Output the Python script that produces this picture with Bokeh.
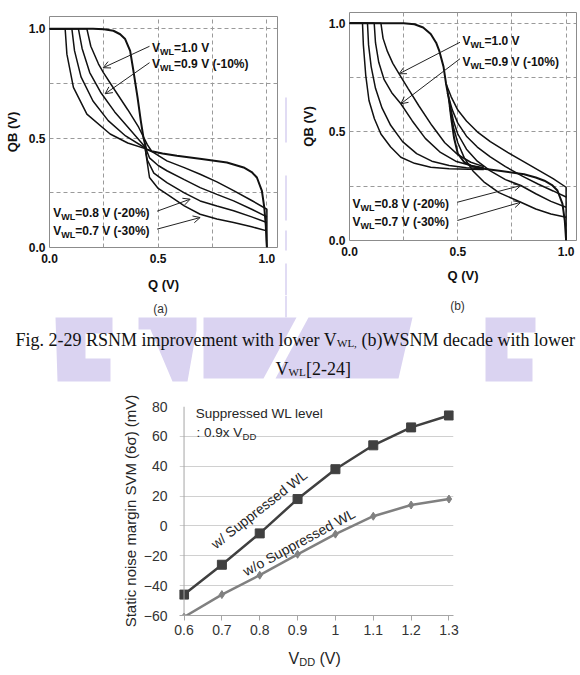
from bokeh.plotting import figure
from bokeh.layouts import column, row
from bokeh.models import Range1d, FixedTicker, Arrow, OpenHead, Span
from bokeh.core.properties import value
from bokeh.embed import file_html
from bokeh.resources import INLINE

SANS = "Liberation Sans"
SERIF = "Liberation Serif"
LAV = "#dad3f1"
LAV_LINE = "#e1dcf4"

# ---------------- (a) read-mode butterfly curves, Q (V) vs QB (V) ----------------
a_ref_q = [0.0, 0.2, 0.25, 0.294, 0.325, 0.348, 0.371, 0.386, 0.405, 0.42, 0.432, 0.445, 0.47,
           0.52, 0.586, 0.7, 0.816, 0.893, 0.93, 0.954, 0.977, 0.988, 0.995, 0.998, 1.0]
a_ref_qb = [1.0, 1.0, 0.998, 0.991, 0.975, 0.953, 0.899, 0.808, 0.686, 0.579, 0.503, 0.45, 0.44,
            0.43, 0.419, 0.405, 0.389, 0.366, 0.345, 0.32, 0.259, 0.183, 0.1, 0.03, 0.0]

a_v10_q = [0.0, 0.172, 0.19, 0.225, 0.248, 0.3, 0.36, 0.41, 0.45, 0.47, 0.54, 0.62, 0.693, 0.77,
           0.847, 0.93, 1.0, 1.0]
a_v10_qb = [1.0, 1.0, 0.92, 0.84, 0.8, 0.72, 0.63, 0.55, 0.47, 0.44, 0.396, 0.365, 0.335, 0.3,
            0.26, 0.215, 0.175, 0.0]

a_v09_q = [0.0, 0.133, 0.15, 0.185, 0.235, 0.3, 0.37, 0.44, 0.46, 0.5, 0.54, 0.62, 0.693, 0.77,
           0.847, 0.93, 1.0]
a_v09_qb = [1.0, 1.0, 0.91, 0.8, 0.71, 0.62, 0.54, 0.46, 0.41, 0.375, 0.351, 0.31, 0.274, 0.243,
            0.213, 0.175, 0.14]

a_v08_q = [0.0, 0.103, 0.115, 0.145, 0.2, 0.27, 0.35, 0.44, 0.45, 0.48, 0.54, 0.62, 0.693, 0.77,
           0.847, 0.93, 1.0]
a_v08_qb = [1.0, 1.0, 0.9, 0.78, 0.67, 0.58, 0.51, 0.455, 0.4, 0.34, 0.297, 0.25, 0.213, 0.19,
            0.168, 0.14, 0.114]

a_v07_q = [0.0, 0.072, 0.08, 0.11, 0.172, 0.279, 0.36, 0.44, 0.448, 0.46, 0.5, 0.54, 0.62,
           0.693, 0.77, 0.847, 0.93, 1.0]
a_v07_qb = [1.0, 1.0, 0.884, 0.732, 0.61, 0.519, 0.478, 0.452, 0.4, 0.32, 0.27, 0.244, 0.19,
            0.152, 0.13, 0.114, 0.095, 0.076]

# ---------------- (b) write-mode butterfly curves ----------------
b_ref_q = [0.0, 0.25, 0.3, 0.34, 0.375, 0.4, 0.414, 0.434, 0.446, 0.46, 0.47, 0.483, 0.5, 0.53,
           0.57, 0.62, 0.7, 0.806, 0.86, 0.9, 0.935, 0.96, 0.983, 0.994, 1.0]
b_ref_qb = [1.0, 1.0, 0.995, 0.98, 0.95, 0.91, 0.874, 0.8, 0.72, 0.644, 0.56, 0.47, 0.4, 0.36,
            0.34, 0.33, 0.32, 0.305, 0.29, 0.275, 0.255, 0.23, 0.17, 0.09, 0.0]

b_l10_q = [0.0, 0.145, 0.155, 0.175, 0.2, 0.229, 0.27, 0.32, 0.38, 0.44, 0.5, 0.56, 0.62]
b_l10_qb = [1.0, 1.0, 0.93, 0.87, 0.815, 0.767, 0.7, 0.62, 0.53, 0.45, 0.395, 0.36, 0.34]
b_l09_q = [0.0, 0.114, 0.12, 0.135, 0.16, 0.195, 0.237, 0.29, 0.35, 0.42, 0.49, 0.56, 0.62]
b_l09_qb = [1.0, 1.0, 0.91, 0.82, 0.74, 0.68, 0.629, 0.55, 0.47, 0.405, 0.365, 0.345, 0.335]
b_l08_q = [0.0, 0.083, 0.088, 0.1, 0.12, 0.15, 0.19, 0.245, 0.31, 0.38, 0.46, 0.54, 0.62]
b_l08_qb = [1.0, 1.0, 0.9, 0.8, 0.7, 0.61, 0.53, 0.455, 0.4, 0.365, 0.345, 0.335, 0.33]
b_l07_q = [0.0, 0.06, 0.064, 0.075, 0.09, 0.115, 0.145, 0.19, 0.237, 0.3, 0.375, 0.46, 0.55, 0.62]
b_l07_qb = [1.0, 1.0, 0.9, 0.76, 0.644, 0.56, 0.49, 0.43, 0.383, 0.355, 0.337, 0.33, 0.328, 0.327]

b_r10_q = [0.446, 0.47, 0.5, 0.54, 0.59, 0.65, 0.73, 0.8, 0.87, 0.94, 1.0, 1.0]
b_r10_qb = [0.72, 0.66, 0.6, 0.55, 0.5, 0.455, 0.405, 0.365, 0.325, 0.285, 0.245, 0.0]
b_r09_q = [0.452, 0.475, 0.5, 0.54, 0.59, 0.65, 0.72, 0.8, 0.87, 0.94, 1.0]
b_r09_qb = [0.68, 0.6, 0.54, 0.48, 0.43, 0.385, 0.34, 0.295, 0.26, 0.228, 0.2]
b_r08_q = [0.458, 0.48, 0.5, 0.54, 0.59, 0.65, 0.72, 0.791, 0.86, 0.93, 1.0]
b_r08_qb = [0.65, 0.55, 0.49, 0.42, 0.365, 0.32, 0.28, 0.253, 0.215, 0.18, 0.153]
b_r07_q = [0.462, 0.48, 0.5, 0.53, 0.57, 0.62, 0.69, 0.791, 0.86, 0.93, 1.0]
b_r07_qb = [0.62, 0.52, 0.45, 0.38, 0.32, 0.27, 0.22, 0.176, 0.145, 0.122, 0.107]

bf_ticks = [0.0, 0.5, 1.0]
bf_tick_labels = ["0.0", "0.5", "1.0"]
bf_grid = [0.25, 0.5, 0.75, 1.0]

# ---------------- SNM vs VDD ----------------
vdd = [0.6, 0.7, 0.8, 0.9, 1.0, 1.1, 1.2, 1.3]
vdd_labels = ["0.6", "0.7", "0.8", "0.9", "1", "1.1", "1.2", "1.3"]
snm_with = [-46, -26, -5, 18, 38, 54, 66, 74]
snm_without = [-61, -46, -33, -19, -5.5, 6.5, 14, 18]
snm_ticks = [-60, -40, -20, 0, 20, 40, 60, 80]


def butterfly(width, height, xend, yend, left, right, top, bottom, xl_off, yl_off):
    p = figure(width=width, height=height, x_range=Range1d(0, xend), y_range=Range1d(0, yend),
               output_backend="svg", toolbar_location=None, frame_align=False,
               min_border_left=left, min_border_right=right,
               min_border_top=top, min_border_bottom=bottom)
    p.outline_line_color = "#8c8c8c"
    p.outline_line_width = 1
    for ax in (p.xaxis, p.yaxis):
        ax.ticker = FixedTicker(ticks=bf_ticks)
        ax.major_label_overrides = dict(zip(bf_ticks, bf_tick_labels))
        ax.axis_line_color = None
        ax.major_tick_line_color = None
        ax.minor_tick_line_color = None
        ax.major_tick_out = 0
        ax.major_tick_in = 0
        ax.minor_tick_out = 0
        ax.minor_tick_in = 0
        ax.major_label_text_font = SANS
        ax.major_label_text_font_style = "bold"
        ax.major_label_text_font_size = "12px"
        ax.major_label_text_color = "#111111"
        ax.axis_label_text_font = SANS
        ax.axis_label_text_font_style = "bold"
        ax.axis_label_text_font_size = "13px"
        ax.axis_label_text_color = "#111111"
    p.xaxis.axis_label = "Q (V)"
    p.yaxis.axis_label = "QB (V)"
    p.xaxis.major_label_standoff = 6
    p.yaxis.major_label_standoff = 4
    p.xaxis.axis_label_standoff = xl_off
    p.yaxis.axis_label_standoff = yl_off
    for g in (p.xgrid, p.ygrid):
        g.ticker = FixedTicker(ticks=bf_grid)
        g.grid_line_color = "#9a9a9a"
        g.grid_line_dash = "4 3"
        g.grid_line_width = 1
    return p


def band(width, height, x0, x1, y_top, y_bottom):
    # plain drawing band in page pixel coordinates (y grows downward)
    p = figure(width=width, height=height, x_range=Range1d(x0, x1), y_range=Range1d(y_bottom, y_top),
               output_backend="svg", toolbar_location=None, frame_align=False,
               x_axis_location=None, y_axis_location=None, min_border=0)
    p.outline_line_color = None
    p.grid.visible = False
    return p


def vwl(p, x, y, rest):
    common = dict(text_font=value(SANS), text_font_style="bold", text_color="#111111",
                  text_baseline="middle", text_align="left")
    p.text(x=[x], y=[y], text=["V"], text_font_size="12px", **common)
    p.text(x=[x], y=[y], text=["WL"], x_offset=8, y_offset=4, text_font_size="9px", **common)
    p.text(x=[x], y=[y], text=[rest], x_offset=22, text_font_size="12px", **common)


def arrow(p, x0, y0, x1, y1):
    p.add_layout(Arrow(end=OpenHead(size=7, line_width=1, line_color="#222222"),
                       x_start=x0, y_start=y0, x_end=x1, y_end=y1,
                       line_width=1, line_color="#222222"))


THIN = 1.5
THICK = 2.0
INK = "#111111"

# ---- panel (a)
pa = butterfly(283, 295, 1.0488, 1.0562, 49, 6, 16, 48, 11, 6)
for qs, qbs in [(a_v10_q, a_v10_qb), (a_v09_q, a_v09_qb), (a_v08_q, a_v08_qb), (a_v07_q, a_v07_qb)]:
    pa.line(qs, qbs, line_color=INK, line_width=THIN)
pa.line(a_ref_q, a_ref_qb, line_color=INK, line_width=THICK)
vwl(pa, 0.472, 0.913, "=1.0 V")
vwl(pa, 0.472, 0.84, "=0.9 V (-10%)")
vwl(pa, 0.017, 0.159, "=0.8 V (-20%)")
vwl(pa, 0.017, 0.076, "=0.7 V (-30%)")
arrow(pa, 0.46, 0.92, 0.247, 0.822)
arrow(pa, 0.46, 0.845, 0.256, 0.703)
arrow(pa, 0.495, 0.166, 0.647, 0.221)
arrow(pa, 0.495, 0.084, 0.693, 0.137)

# ---- panel (b)
pb = butterfly(292, 295, 1.048, 1.049, 61, 4, 12, 55, 9, 10)
for qs, qbs in [(b_l10_q, b_l10_qb), (b_l09_q, b_l09_qb), (b_l08_q, b_l08_qb), (b_l07_q, b_l07_qb),
                (b_r10_q, b_r10_qb), (b_r09_q, b_r09_qb), (b_r08_q, b_r08_qb), (b_r07_q, b_r07_qb)]:
    pb.line(qs, qbs, line_color=INK, line_width=THIN)
pb.line(b_ref_q, b_ref_qb, line_color=INK, line_width=THICK)
vwl(pb, 0.522, 0.92, "=1.0 V")
vwl(pb, 0.522, 0.82, "=0.9 V (-10%)")
vwl(pb, 0.014, 0.169, "=0.8 V (-20%)")
vwl(pb, 0.014, 0.084, "=0.7 V (-30%)")
arrow(pb, 0.51, 0.912, 0.229, 0.767)
arrow(pb, 0.51, 0.836, 0.237, 0.629)
arrow(pb, 0.498, 0.176, 0.791, 0.253)
arrow(pb, 0.498, 0.092, 0.791, 0.176)

# ---- thin strip between the two panels (background mark)
strip = band(5, 295, 283, 288, 0, 295)
strip.segment(x0=[285.5] * 4, y0=[97, 175, 230, 263], x1=[285.5] * 4, y1=[142, 220, 250, 295],
              line_color=LAV_LINE, line_width=2)

# ---- caption band
cap = band(580, 90, 0, 580, 295, 385)
cap.patches(
    xs=[[55, 112, 112, 85, 85, 110, 110, 57],
        [138, 196, 196, 187, 172, 150, 138],
        [203, 296, 263, 203],
        [308, 412, 398, 275],
        [485, 535, 535, 507, 507, 532, 532, 485]],
    ys=[[317, 317, 333, 333, 358, 358, 381, 381],
        [317, 317, 330, 381, 381, 329, 329],
        [317, 317, 378, 378],
        [317, 317, 378, 378],
        [317, 317, 332, 332, 358, 358, 381, 381]],
    fill_color=LAV, line_color=None)
cap.segment(x0=[285.5], y0=[295], x1=[285.5], y1=[317], line_color=LAV_LINE, line_width=2)

sub = dict(text_font=value(SANS), text_font_size="12px", text_color="#333333",
           text_align="center", text_baseline="middle")
cap.text(x=[160], y=[308], text=["(a)"], **sub)
cap.text(x=[457], y=[305], text=["(b)"], **sub)

serif = dict(text_font=value(SERIF), text_color="#111111", text_align="left",
             text_baseline="alphabetic")
cap.text(x=[15], y=[339], text=["Fig. 2-29 RSNM improvement with lower V"],
         text_font_size="18px", **serif)
cap.text(x=[336.5], y=[342.5], text=["WL,"], text_font_size="11px", **serif)
cap.text(x=[361], y=[339], text=["(b)WSNM decade with lower"], text_font_size="18px", **serif)
cap.text(x=[275], y=[368], text=["V"], text_font_size="18px", **serif)
cap.text(x=[288], y=[371.5], text=["WL"], text_font_size="11px", **serif)
cap.text(x=[305.5], y=[368], text=["[2-24]"], text_font_size="18px", **serif)

# ---- SNM vs VDD chart
pc = figure(width=580, height=260, x_range=Range1d(0.588, 1.312), y_range=Range1d(-60, 80),
            output_backend="svg", toolbar_location=None, frame_align=False,
            min_border_left=179, min_border_right=127, min_border_top=21, min_border_bottom=30)
pc.outline_line_color = None
pc.xgrid.visible = False
pc.ygrid.ticker = FixedTicker(ticks=snm_ticks)
pc.ygrid.grid_line_color = "#d0d0d0"
pc.ygrid.grid_line_width = 1

pc.xaxis.ticker = FixedTicker(ticks=vdd)
pc.xaxis.major_label_overrides = dict(zip(vdd, vdd_labels))
pc.xaxis.axis_line_color = "#a6a6a6"
pc.xaxis.major_tick_line_color = "#a6a6a6"
pc.xaxis.major_tick_out = 5
pc.xaxis.major_tick_in = 0
pc.xaxis.minor_tick_line_color = None
pc.xaxis.major_label_standoff = 4

pc.yaxis.ticker = FixedTicker(ticks=snm_ticks)
pc.yaxis.axis_line_color = None
pc.yaxis.major_tick_line_color = None
pc.yaxis.minor_tick_line_color = None
pc.yaxis.major_label_standoff = 6
pc.yaxis.axis_label = "Static noise margin SVM (6\u03c3) (mV)"
pc.yaxis.axis_label_standoff = 2
pc.yaxis.axis_label_text_font = SANS
pc.yaxis.axis_label_text_font_style = "normal"
pc.yaxis.axis_label_text_font_size = "15px"
pc.yaxis.axis_label_text_color = "#262626"
for ax in (pc.xaxis, pc.yaxis):
    ax.major_label_text_font = SANS
    ax.major_label_text_font_size = "14px"
    ax.major_label_text_color = "#333333"

pc.add_layout(Span(location=0.6, dimension="height", line_color="#a6a6a6", line_width=1))

pc.line(vdd, snm_without, line_color="#808080", line_width=2.5)
pc.scatter(vdd, snm_without, marker="diamond", size=8, fill_color="#808080", line_color="#808080")
pc.line(vdd, snm_with, line_color="#404040", line_width=2.5)
pc.scatter(vdd, snm_with, marker="square", size=9, fill_color="#404040", line_color="#404040")

note = dict(text_font=value(SANS), text_color="#262626", text_align="left", text_baseline="middle")
pc.text(x=[0.631], y=[75.3], text=["Suppressed  WL level"], text_font_size="13.5px", **note)
pc.text(x=[0.633], y=[62.8], text=[": 0.9x V"], text_font_size="13.5px", **note)
pc.text(x=[0.633], y=[62.8], text=["DD"], x_offset=46, y_offset=4, text_font_size="9.5px", **note)

rot = dict(text_font=value(SANS), text_color="#262626", text_align="center",
           text_baseline="middle", text_font_size="14px", angle_units="deg")
pc.text(x=[0.8026], y=[12.0], text=["w/  Suppressed WL"], angle=38.1, **rot)
pc.text(x=[0.9038], y=[-10.9], text=["w/o Suppressed WL"], angle=28.5, **rot)

# ---- x-axis title of the SNM chart (with subscript)
xl = band(580, 30, 0, 580, 645, 675)
xlab = dict(text_font=value(SANS), text_color="#262626", text_align="left", text_baseline="alphabetic")
xl.text(x=[288], y=[658], text=["V"], text_font_size="16px", **xlab)
xl.text(x=[298.7], y=[661.5], text=["DD"], text_font_size="11px", **xlab)
xl.text(x=[319], y=[658], text=["(V)"], text_font_size="16px", **xlab)

layout = column(row(pa, strip, pb), cap, pc, xl)
open("out.html", "w").write(file_html(layout, INLINE))
